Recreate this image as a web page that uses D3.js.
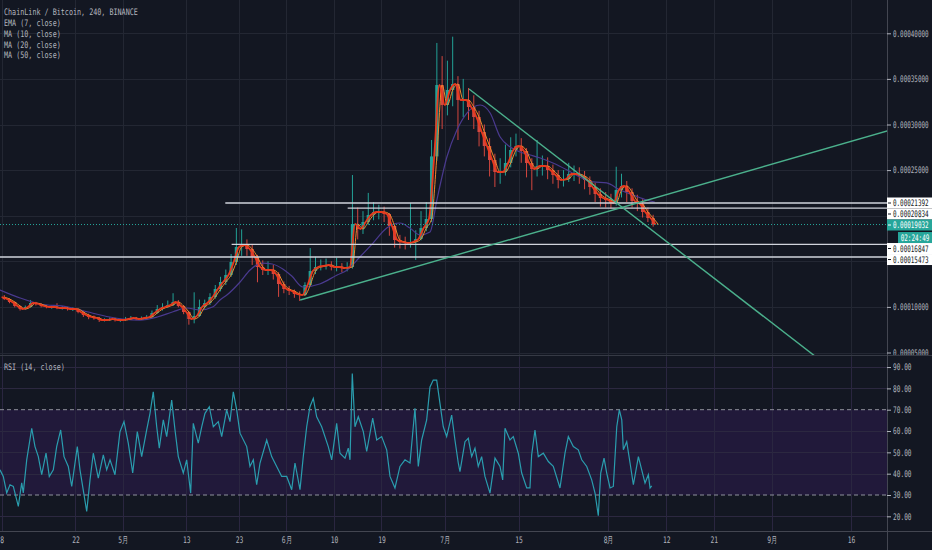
<!DOCTYPE html>
<html>
<head>
<meta charset="utf-8">
<script src="https://cdn.jsdelivr.net/npm/d3@7"></script>
<style>
  html, body { margin: 0; background: #131722; overflow: hidden; }
  svg { display: block; }
  text { font-family: "DejaVu Sans Mono", monospace; fill: #b2b5be; }
</style>
</head>
<body>
<div id="chart"></div>
<script>
// LINK/BTC, one day at a time (prices in satoshi)
const startDay = Date.UTC(2019, 3, 8);
const firstOpen = 11085;

const closes = [
  10866,10537,10098,9769,9988,10427,10318,10098,9988,9988,
  9879,9879,9769,9769,9440,9112,8892,8782,8563,8563,
  8673,8563,8563,8673,8782,8673,8782,8892,9330,9769,
  9988,10208,10537,10098,9440,8673,9002,9988,10427,11085,
  11962,12729,13497,14922,16567,16787,16348,15470,14374,14045,
  14045,13607,12510,11962,11743,11414,11304,12401,13936,14374,
  14484,14593,14374,14374,14264,14374,19089,18540,19308,20077,
  20406,20406,20186,18870,17335,17116,17007,17116,17445,18650,
  19638,26500,34330,32138,33783,34441,32687,32687,31919,30822,
  29178,27643,26108,24791,24791,25778,27204,27643,27094,25778,
  25120,25449,25449,25011,24462,23915,24024,24572,24572,24353,
  23915,23147,22379,21941,21722,21393,22818,23257,22599,21612,
  21283,20406,19748,19032
];
const highs = [
  11300,10950,10600,10150,10150,10760,10550,10400,10200,10150,
  10400,10100,10000,9950,9850,9550,9250,9050,8900,8750,
  8850,8800,8700,8900,9000,8900,8950,9100,9600,10200,
  10400,10700,11500,10750,10200,9500,11600,10800,10800,11500,
  12400,13300,14100,15800,18650,18500,17400,16800,15700,15100,
  15000,14600,13800,12800,12300,11900,11700,12700,16450,15500,
  15200,15300,15000,15400,14800,14900,24460,20900,20500,22500,
  21500,21200,21000,20300,19000,17900,17700,21400,18400,20500,
  21500,28300,38940,37500,37000,39630,35300,35000,34000,33200,
  31500,30000,28500,26800,26300,27800,28600,29000,28500,27400,
  26300,28300,26600,26400,25600,25000,25000,25800,25500,25300,
  24900,24300,23600,23000,22600,22400,25370,24600,23800,23000,
  22300,21800,20900,20100
];
const lows = [
  10750,10400,9950,9600,9700,9950,10150,9950,9850,9800,
  9750,9700,9600,9550,9300,8900,8650,8600,8350,8400,
  8450,8400,8350,8450,8600,8550,8600,8700,8800,9250,
  9600,9900,10100,9950,9200,8050,8200,8900,9800,10200,
  10900,11700,12400,13300,14600,15600,15600,14600,12700,13500,
  13500,13000,11100,11500,11300,11000,10650,11200,12300,13600,
  14000,14100,14000,13900,13800,13900,14200,17400,18000,19000,
  19500,19600,19300,17800,16500,16400,16300,16500,15150,17300,
  18300,19300,26000,29500,31000,32000,28300,30800,30500,29500,
  27600,26500,24300,23150,23500,24400,25300,26500,25800,24200,
  22800,24300,24400,24000,23500,23000,23200,23700,23800,23500,
  22900,22300,21500,21000,20900,20800,21100,22000,21500,20900,
  20500,19800,19300,18800
];

// MA (50) line: day offset, value
const maDays = [-0.3,3.5,7.3,12.4,16.2,20.5,23,26.2,29.5,32.5,35.1,37.6,40.1,41.4,42.7,45.2,47.1,49.4,51.3,53.3,55,57.1,60.3,63.6,65.5,67.9,70.4,73,75.5,77.4,79.3,81.2,82.5,84.4,86.3,88.2,90.7,92.6,94.5,96.4,98.3,100.2,102.1,104.5,107.2,109.6,112.1,114.7,117.2,119.7,122.3,123.8];
const maVals = [11850,10980,10320,10020,9470,8890,8670,8560,8890,9470,9880,9660,10020,10760,11300,12730,14050,14810,14700,14150,13380,12180,12510,13500,14050,15470,17000,18650,19200,18650,17880,18210,21720,26440,29400,31260,32140,31260,28630,27530,26980,26660,26330,25780,25010,24240,23700,23590,22820,22270,21720,21500];

// RSI (14): day offset, value
const rsiDays = [-0.3,0.32,0.97,1.59,2.22,3.17,3.81,4.11,4.76,5.71,6.33,6.96,7.6,8.42,9.04,9.8,10.44,11.2,11.83,12.64,13.29,14.35,14.86,16.13,16.76,17.38,18.33,19.28,19.92,20.55,21.49,22.44,23.2,24.01,24.85,25.72,26.55,27.5,28.13,28.75,29.4,29.89,30.65,31.29,32.24,32.87,33.49,34.44,35.08,35.84,36.33,37.28,37.93,38.55,39.37,40.13,41.07,41.72,42.66,43.29,43.92,44.56,45.19,46.46,47.08,47.71,48.35,48.98,50.25,51.19,52.14,53.09,54.04,54.99,55.61,56.56,57.18,57.83,58.45,59.08,59.72,60.67,61.92,62.57,63.51,64.14,65.09,65.71,66.04,66.47,66.98,67.61,68.56,69.2,70.34,71.1,72.04,72.99,73.62,74.56,75.51,76.46,77.41,78.35,78.98,79.62,80.57,81.2,81.82,82.47,83.09,83.72,84.36,85.31,85.93,86.56,86.88,87.83,88.46,89.1,89.73,90.35,90.99,91.62,92.57,93.52,94.47,94.98,95.42,96.36,96.99,97.94,98.58,99.53,100.15,100.47,101.1,101.73,102.68,103.63,104.57,105.84,106.79,107.42,108.37,109.31,109.96,110.91,111.85,112.48,113.1,113.56,114.19,114.7,115.33,115.95,116.6,117.09,117.55,117.85,118.49,119.12,119.75,120.7,121.33,121.96,122.59,122.91,123.23];
const rsiVals = [41.8,38.7,31,34.8,34,24.7,35.7,31,46.5,61.3,52.7,48,39.5,49.6,38.7,41.8,52.7,60.5,48,43.4,34,52.7,41.8,22.3,37.1,49.6,37.9,48.8,41.8,46.5,39.5,59.7,64.4,54.3,40.3,59.7,48,60.5,68.3,78.4,62,52,65.2,57.4,74.5,60.5,48,40.3,46.5,30.9,63.6,54.3,62,68.3,71.4,62,64.4,57.4,69.9,64.4,78.4,69.9,59,52.7,43.4,46.5,34.8,45,55.8,48,43.4,38.7,38.7,32.5,45,32.5,48,62,71.4,75.3,66.7,62,52.7,46.5,63.6,49.6,47.3,52,46.5,87,62,66.7,59.7,50.4,66,55.8,57.4,51.2,38.7,33.3,43.4,46.5,45,70.7,43.4,55.8,65.2,80.7,83.9,83.9,73,62,57.4,67.5,55.8,45,41,55,56.6,48,52,43.4,48,38.7,30.9,47.3,43.4,37.1,61.3,55.8,57.4,49.6,40.3,33.3,33.3,48.8,60.5,48,49.6,45.7,43.4,33.3,49.6,57.4,52.7,51.2,46.5,43.4,37.1,30.9,20.3,40.3,47.3,40.3,33.3,34,62,69.9,65.2,51.2,55,45,34.8,48,41.8,35.6,39.5,33.3,34.3];

// drawings: horizontal levels (value, starting day) and two trend lines
const levels = [21392, 20834, 16847, 15473];
const levelFrom = [42.4, 65.6, 43.6, -1];
const lastPrice = 19032;
const countdown = "02:24:49";
const trendLines = [
  [56.6, 10756, 170, 29650],
  [88.6, 33892, 160, 2000]
];

const tickDates = ["2019-04-08","2019-04-22","2019-05-01","2019-05-13","2019-05-23","2019-06-01","2019-06-10","2019-06-19","2019-07-01","2019-07-15","2019-08-01","2019-08-12","2019-08-21","2019-09-01","2019-09-16"];
const tickLabels = ["8","22","5月","13","23","6月","10","19","7月","15","8月","12","21","9月","16"];
const priceTicks = [5000,10000,15000,20000,25000,30000,35000,40000];
const rsiTicks = [20,30,40,50,60,70,80,90];
const legend = ["ChainLink / Bitcoin, 240, BINANCE","EMA (7, close)","MA (10, close)","MA (20, close)","MA (50, close)"];

const W = 932, H = 550;
const plotR = 887, mainB = 355, rsiT = 357, rsiB = 531;
const DAY = 864e5;
const at = d => new Date(startDay + d * DAY);
const fmtPrice = v => d3.format(".8f")(v * 1e-8);

const svg = d3.select("#chart").append("svg").attr("width", W).attr("height", H);
svg.append("rect").attr("width", W).attr("height", H).attr("fill", "#131722");

const defs = svg.append("defs");
defs.append("clipPath").attr("id", "clipMain").append("rect")
  .attr("width", plotR).attr("height", mainB);
defs.append("clipPath").attr("id", "clipRsi").append("rect")
  .attr("y", rsiT).attr("width", plotR).attr("height", rsiB - rsiT);
defs.append("clipPath").attr("id", "clipAxis").append("rect")
  .attr("x", plotR).attr("width", W - plotR).attr("height", mainB);

const x = d3.scaleUtc()
  .domain([at(0), new Date(Date.UTC(2019, 8, 16))])
  .range([1.6, 851]);
const y = d3.scaleLinear().domain([5000, 40000]).range([352.5, 33.3]);
const r = d3.scaleLinear().domain([30, 70]).range([495, 409.7]);

const ticks = tickDates.map(s => new Date(s + "T00:00:00Z"));

// grid
const grid = svg.append("g").attr("stroke", "#232733").attr("stroke-width", 1);
grid.selectAll(".v").data(ticks).join("line")
  .attr("x1", d => Math.round(x(d)) + 0.5).attr("x2", d => Math.round(x(d)) + 0.5)
  .attr("y1", 0).attr("y2", rsiB);
grid.selectAll(".h").data(priceTicks).join("line")
  .attr("x1", 0).attr("x2", plotR)
  .attr("y1", d => Math.round(y(d)) + 0.5).attr("y2", d => Math.round(y(d)) + 0.5);

// ---------- main pane ----------
const main = svg.append("g").attr("clip-path", "url(#clipMain)");

const candles = closes.map((c, i) => ({
  day: i, open: i ? closes[i - 1] : firstOpen, close: c, high: highs[i], low: lows[i]
}));
const upC = "#22a196", downC = "#d4473f";
const cg = main.append("g");
cg.selectAll("line").data(candles).join("line")
  .attr("x1", d => x(at(d.day + 0.5))).attr("x2", d => x(at(d.day + 0.5)))
  .attr("y1", d => y(d.high)).attr("y2", d => y(d.low))
  .attr("stroke", d => d.close >= d.open ? upC : downC).attr("stroke-width", 1);
cg.selectAll("rect").data(candles).join("rect")
  .attr("x", d => x(at(d.day + 0.5)) - 1.6).attr("width", 3.2)
  .attr("y", d => y(Math.max(d.open, d.close)))
  .attr("height", d => Math.max(1, Math.abs(y(d.open) - y(d.close))))
  .attr("fill", d => d.close >= d.open ? upC : downC);

// MA (50)
main.append("path")
  .datum(maDays.map((d, i) => [d, maVals[i]]))
  .attr("fill", "none").attr("stroke", "#4a3a8f").attr("stroke-width", 1.2)
  .attr("d", d3.line().x(d => x(at(d[0]))).y(d => y(d[1])).curve(d3.curveMonotoneX));

// EMA (7) trace through the daily closes; the slower MA trails it by half a day
const emaPts = [[0, firstOpen]].concat(closes.map((c, i) => [i + 1, c]));
main.append("path").datum(emaPts)
  .attr("fill", "none").attr("stroke", "#f08a2c").attr("stroke-width", 1)
  .attr("d", d3.line().x(d => x(at(d[0] + 0.5))).y(d => y(d[1])).curve(d3.curveMonotoneX));
main.append("path").datum(emaPts)
  .attr("fill", "none").attr("stroke", "#e8391d").attr("stroke-width", 1.8)
  .attr("d", d3.line().x(d => x(at(d[0]))).y(d => y(d[1])).curve(d3.curveMonotoneX));

// horizontal levels
main.selectAll(".lvl").data(levels).join("line")
  .attr("x1", (d, i) => x(at(levelFrom[i]))).attr("x2", plotR)
  .attr("y1", d => y(d)).attr("y2", d => y(d))
  .attr("stroke", "#d1d4dc").attr("stroke-width", 1.3);

// last price line
main.append("line")
  .attr("x1", 0).attr("x2", plotR).attr("y1", y(lastPrice)).attr("y2", y(lastPrice))
  .attr("stroke", "#26a69a").attr("stroke-width", 1).attr("stroke-dasharray", "1,2");

// trend lines
main.selectAll(".trend").data(trendLines).join("line")
  .attr("x1", d => x(at(d[0]))).attr("y1", d => y(d[1]))
  .attr("x2", d => x(at(d[2]))).attr("y2", d => y(d[3]))
  .attr("stroke", "#4bb08c").attr("stroke-width", 1.4);

// ---------- RSI pane ----------
const rsiG = svg.append("g").attr("clip-path", "url(#clipRsi)");
rsiG.append("rect").attr("x", 0).attr("width", plotR)
  .attr("y", r(70)).attr("height", r(30) - r(70)).attr("fill", "#21193a");
rsiG.selectAll(".rg").data(rsiTicks.filter(v => v !== 30 && v !== 70)).join("line")
  .attr("x1", 0).attr("x2", plotR)
  .attr("y1", d => Math.round(r(d)) + 0.5).attr("y2", d => Math.round(r(d)) + 0.5)
  .attr("stroke", "#2c2840");
rsiG.selectAll(".rv").data(ticks).join("line")
  .attr("x1", d => Math.round(x(d)) + 0.5).attr("x2", d => Math.round(x(d)) + 0.5)
  .attr("y1", rsiT).attr("y2", rsiB).attr("stroke", "#2a2640");
rsiG.selectAll(".band").data([70, 30]).join("line")
  .attr("x1", 0).attr("x2", plotR).attr("y1", d => r(d)).attr("y2", d => r(d))
  .attr("stroke", "#8f929c").attr("stroke-dasharray", "4,3");
rsiG.append("path")
  .datum(rsiDays.map((d, i) => [d, rsiVals[i]]))
  .attr("fill", "none").attr("stroke", "#2a9dae").attr("stroke-width", 1.2)
  .attr("d", d3.line().x(d => x(at(d[0]))).y(d => r(d[1])));

// pane borders
svg.append("line").attr("x1", 0).attr("x2", W).attr("y1", 355.5).attr("y2", 355.5)
  .attr("stroke", "#363a45");
svg.append("line").attr("x1", 0).attr("x2", W).attr("y1", rsiB + 0.5).attr("y2", rsiB + 0.5)
  .attr("stroke", "#434651");
svg.append("line").attr("x1", plotR + 0.5).attr("x2", plotR + 0.5).attr("y1", 0).attr("y2", H)
  .attr("stroke", "#434651");

// ---------- axes ----------
const squeeze = (sel, k) => sel.attr("transform", `scale(${k},1)`);

// price labels for the drawn levels, pushed apart like the platform does
const boxes = levels.map(v => ({ v, kind: "level" }))
  .concat([{ v: lastPrice, kind: "last" }])
  .map(b => ({ ...b, want: y(b.v) }))
  .sort((a, b) => a.want - b.want);
const placed = [];
let prev = -Infinity;
boxes.forEach(b => {
  const cy = Math.max(b.want, prev + 11);
  placed.push({ ...b, cy });
  prev = cy;
  if (b.kind === "last") {
    const cy2 = Math.max(b.want + 13, prev + 11);
    placed.push({ kind: "clock", cy: cy2 });
    prev = cy2;
  }
});

const yAxis = svg.append("g").attr("clip-path", "url(#clipAxis)")
  .append("g").attr("transform", `translate(${plotR},0)`)
  .call(d3.axisRight(y)
    .tickValues(priceTicks.filter(v => placed.every(p => Math.abs(p.cy - y(v)) > 8)))
    .tickFormat(fmtPrice).tickSize(4).tickPadding(5));
yAxis.select(".domain").remove();
yAxis.selectAll("line").attr("stroke", "#b2b5be");
yAxis.selectAll("text").attr("font-size", 9).attr("font-family", "DejaVu Sans Mono")
  .attr("fill", "#b2b5be").call(squeeze, 0.66);

const lab = svg.append("g");
placed.forEach(p => {
  const g = lab.append("g").attr("transform", `translate(${plotR},${p.cy})`);
  if (p.kind === "clock") {
    g.append("rect").attr("x", 11).attr("y", -5.5).attr("width", W - plotR - 11).attr("height", 11)
      .attr("fill", "#26a69a");
    g.append("text").attr("dy", "0.35em").attr("text-anchor", "middle")
      .attr("font-size", 9).style("fill", "#ffffff").text(countdown)
      .attr("transform", "translate(28,0) scale(0.66,1)");
    return;
  }
  const light = p.kind === "level";
  g.append("rect").attr("x", 0).attr("y", -5.5).attr("width", W - plotR).attr("height", 11)
    .attr("fill", light ? "#ffffff" : "#26a69a");
  g.append("line").attr("x1", 1).attr("x2", 4).attr("y1", 0).attr("y2", 0)
    .attr("stroke", light ? "#131722" : "#ffffff");
  g.append("text").attr("x", 9).attr("dy", "0.35em").attr("font-size", 9)
    .style("fill", light ? "#131722" : "#ffffff")
    .text(fmtPrice(p.v)).call(squeeze, 0.66);
});

const rAxis = svg.append("g").attr("transform", `translate(${plotR},0)`)
  .call(d3.axisRight(r).tickValues(rsiTicks).tickFormat(d3.format(".2f")).tickSize(4).tickPadding(5));
rAxis.select(".domain").remove();
rAxis.selectAll("line").attr("stroke", "#b2b5be");
rAxis.selectAll("text").attr("font-size", 9).attr("font-family", "DejaVu Sans Mono")
  .attr("fill", "#b2b5be").call(squeeze, 0.68);

const xAxis = svg.append("g").attr("transform", `translate(0,${rsiB})`)
  .call(d3.axisBottom(x).tickValues(ticks).tickFormat((d, i) => tickLabels[i]).tickSize(0).tickPadding(6));
xAxis.select(".domain").remove();
xAxis.selectAll("text").attr("font-size", 9)
  .attr("font-family", "DejaVu Sans Mono, Noto Sans CJK JP").attr("fill", "#b2b5be").call(squeeze, 0.7);

// legends
const leg = svg.append("g");
legend.forEach((t, i) => {
  leg.append("text").attr("font-size", 9).attr("dy", "0.35em")
    .attr("transform", `translate(4,${12.3 + i * 10.7}) scale(0.75,1)`).text(t);
});
leg.append("text").attr("font-size", 9).attr("dy", "0.35em")
  .attr("transform", `translate(4,367) scale(0.75,1)`).text("RSI (14, close)");
</script>
</body>
</html>
